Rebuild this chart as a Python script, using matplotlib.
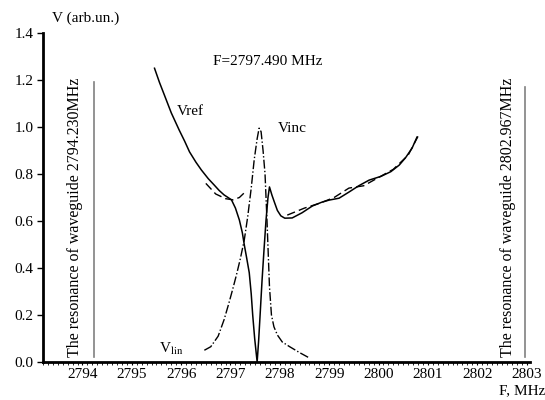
import numpy as np
import matplotlib
matplotlib.use("Agg")
import matplotlib.pyplot as plt
from matplotlib.ticker import MultipleLocator

plt.rcParams['font.family'] = ['Liberation Serif', 'DejaVu Serif']
plt.rcParams['mathtext.fontset'] = 'stix'

# reflected signal (main curve)
f_ref = [2795.46, 2795.56, 2795.66, 2795.80, 2795.96, 2796.07, 2796.17, 2796.30,
         2796.41, 2796.55, 2796.67, 2796.77, 2796.87, 2796.95, 2797.02, 2797.10,
         2797.18, 2797.24, 2797.28, 2797.33, 2797.38, 2797.42, 2797.45, 2797.49,
         2797.52, 2797.54, 2797.57, 2797.60, 2797.64, 2797.68, 2797.72, 2797.76,
         2797.79, 2797.84, 2797.89, 2797.95, 2798.02, 2798.10, 2798.25, 2798.45,
         2798.66, 2798.85, 2799.00, 2799.20, 2799.40, 2799.60, 2799.81, 2800.05,
         2800.25, 2800.42, 2800.55, 2800.68, 2800.78]
v_ref = [1.25, 1.19, 1.136, 1.06, 0.987, 0.94, 0.894, 0.85,
         0.817, 0.78, 0.753, 0.73, 0.711, 0.70, 0.69, 0.655,
         0.604, 0.55, 0.498, 0.44, 0.38, 0.29, 0.20, 0.10,
         0.04, 0.0, 0.09, 0.20, 0.349, 0.48, 0.604, 0.70,
         0.745, 0.71, 0.68, 0.645, 0.622, 0.612, 0.613, 0.635,
         0.664, 0.68, 0.689, 0.697, 0.723, 0.75, 0.774, 0.79,
         0.81, 0.838, 0.87, 0.91, 0.957]

# second (dashed) reflected curve pieces
f_ref2a = [2796.5, 2796.7, 2796.9, 2797.05, 2797.18, 2797.28]
v_ref2a = [0.76, 0.715, 0.695, 0.69, 0.70, 0.72]
f_ref2b = [2798.15, 2798.5, 2798.8, 2799.1, 2799.4, 2799.7, 2800.0, 2800.3, 2800.6, 2800.8]
v_ref2b = [0.625, 0.655, 0.675, 0.70, 0.74, 0.75, 0.785, 0.82, 0.88, 0.96]

# incident signal (resonance peak)
f_inc = [2796.47, 2796.60, 2796.75, 2796.87, 2796.96, 2797.04, 2797.12, 2797.20,
         2797.28, 2797.35, 2797.42, 2797.48, 2797.54, 2797.58, 2797.62, 2797.66,
         2797.70, 2797.74, 2797.79, 2797.83, 2797.88, 2797.95, 2798.05, 2798.20,
         2798.40, 2798.60]
v_inc = [0.05, 0.065, 0.11, 0.18, 0.245, 0.306, 0.37, 0.44,
         0.52, 0.62, 0.74, 0.86, 0.95, 0.995, 0.98, 0.90,
         0.80, 0.60, 0.32, 0.20, 0.15, 0.115, 0.085, 0.065,
         0.04, 0.017]

f_wg = [2794.230, 2802.967]
wg_top = [1.19, 1.17]

fig = plt.figure(figsize=(5.45, 4.0), dpi=100)
ax = fig.add_axes([43/545, 38/400, 487/545, 329/400])

ax.plot(f_ref, v_ref, color='black', lw=1.1)
ax.plot(f_ref2a, v_ref2a, color='black', lw=1.0, ls=(0, (6, 3)))
ax.plot(f_ref2b, v_ref2b, color='black', lw=1.0, ls=(0, (6, 3)))
ax.plot(f_inc, v_inc, color='black', lw=1.0, ls='-.')

for f, t in zip(f_wg, wg_top):
    ax.plot([f, f], [0.02, t], color='gray', lw=1.2)
ax.text(2793.85, 0.02, 'The resonance of waveguide 2794.230MHz', rotation=90,
        ha='center', va='bottom', fontsize=11.5)
ax.text(2802.62, 0.02, 'The resonance of waveguide 2802.967MHz', rotation=90,
        ha='center', va='bottom', fontsize=11.5)

ax.text(2797.75, 1.28, 'F=2797.490 MHz', ha='center', va='center', fontsize=11)
ax.text(2795.92, 1.065, 'Vref', ha='left', va='center', fontsize=11)
ax.text(2797.95, 0.995, 'Vinc', ha='left', va='center', fontsize=11)
ax.text(2795.55, 0.055, r'V$_{\rm lin}$', ha='left', va='center', fontsize=11)

ax.set_xlim(2793.2, 2803.07)
ax.set_ylim(0, 1.4)
ax.set_xticks(range(2794, 2804))
ax.set_yticks(np.arange(0, 1.41, 0.2))
ax.set_yticklabels(['%.1f' % v for v in np.arange(0, 1.41, 0.2)])
ax.xaxis.set_minor_locator(MultipleLocator(0.1))
ax.tick_params(axis='x', which='major', length=2, width=0.8, labelsize=11, pad=2)
ax.tick_params(axis='x', which='minor', length=2, width=0.6)
ax.tick_params(axis='y', length=4, width=1, labelsize=11, pad=3)
ax.spines['top'].set_visible(False)
ax.spines['right'].set_visible(False)
ax.spines['left'].set_linewidth(2)
ax.spines['bottom'].set_linewidth(2)

fig.text(52/545, 1 - 18/400, 'V (arb.un.)', ha='left', va='center', fontsize=11)
fig.text(1.0, 1 - 391/400, 'F, MHz', ha='right', va='center', fontsize=11)

fig.savefig('out.png', dpi=100)
